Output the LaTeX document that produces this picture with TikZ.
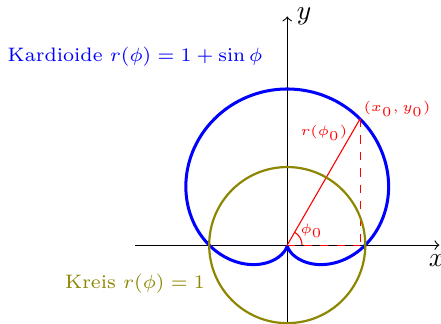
\documentclass[tikz,border=0pt]{standalone}
\usepackage{amsmath}
\usepackage{xcolor}
\usepackage{tikz}
\usetikzlibrary{positioning, calc}

\begin{document}
\begin{tikzpicture}[every node/.style={font=\fontsize{7.1pt}{8.5pt}\selectfont}]
      \useasboundingbox (-3.68,-1.01) rectangle (1.97,3.14);

      % Axes
      \coordinate (O) at (0,0);
      \coordinate (xmin) at (-1.95,0);
      \coordinate (xmax) at (1.95,0);
      \coordinate (ymin) at (0,-1.01);
      \coordinate (ymax) at (0,2.93);

      \draw[->] (xmin) -- (xmax) node[below, xshift=-1pt, font=\normalsize] (xl) {$x$};
      \draw[->] (ymin) -- (ymax) node[right, font=\normalsize] (yl) {$y$};

      % Kardioide
      \draw[blue, line width=1.1pt, domain=0:360, samples=181, smooth] plot (\x:{1+sin(\x)});

      % Point on the curve
      \coordinate (P) at (60:{1+sin(60)});
      \coordinate (Q) at (P |- O);

      \draw[red] (O) -- (P) node[pos=0.89, left, inner sep=1.5pt, font=\tiny] (rl) {$r(\phi_0)$};
      \draw[red, dashed] (P) -- (Q);
      \draw[red, dashed] (O) -- (Q);
      \draw[red] (0.19,0) arc (0:60:0.19);
      \node[red, font=\tiny] (phil) at (30:0.36) {$\phi_0$};
      \node[red, anchor=west, inner sep=0pt, font=\tiny] (pl) at ($(P)+(0.04,0.13)$) {$(x_0,y_0)$};

      % Kreis
      \draw[olive, thick] (O) circle (1);

      \node[blue] (kard) at (-1.95,2.42) {Kardioide $r(\phi)=1+\sin\phi$};
      \node[olive] (kreis) at (-1.95,-0.49) {Kreis $r(\phi)=1$};
    \end{tikzpicture}
\end{document}
